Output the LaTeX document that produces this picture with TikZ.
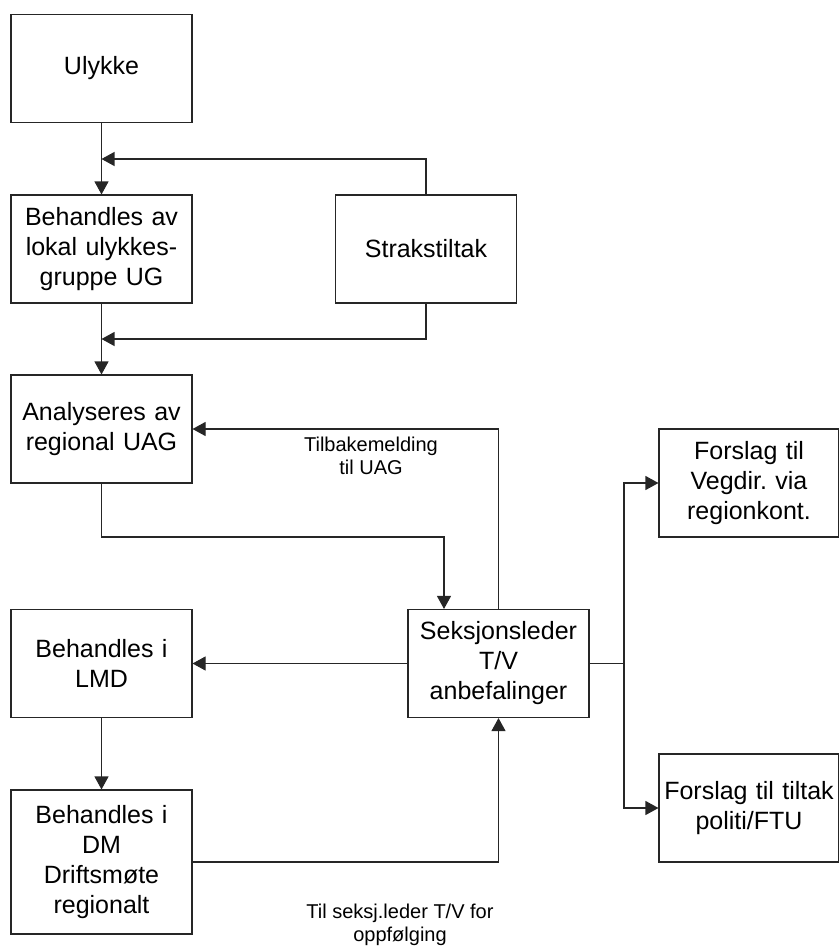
\documentclass[tikz,border=0pt]{standalone}
\usepackage{fontspec}
\setmainfont{Liberation Sans}
\usetikzlibrary{arrows.meta}
\frenchspacing

\begin{document}
\begin{tikzpicture}[x=0.5pt,y=-0.5pt,
  box/.style={draw=black!85, line width=0.55pt, align=center, inner sep=1pt,
    text width=88pt, minimum width=90.5pt, minimum height=54pt,
    font=\fontsize{12.5}{15}\selectfont},
  tallbox/.style={box, minimum height=72pt},
  link/.style={draw=black!85, line width=0.55pt},
  arr/.style={link, -{Triangle[length=6.5pt,width=7pt]}},
  note/.style={align=center, font=\fontsize{10}{11.5}\selectfont}]
 \path[use as bounding box] (0,0) rectangle (839,947);

% left column
\node[box] (ulykke) at (101.5,68.5) {Ulykke};
\node[box] (behandles) at (101.5,249) {Behandles av\\lokal ulykkes-\\gruppe UG};
\node[box] (straks) at (426,249) {Strakstiltak};
\node[box] (analyse) at (101.5,429) {Analyseres av\\regional UAG};
\node[box] (lmd) at (101.5,663.5) {Behandles i\\LMD};
\node[tallbox] (dm) at (101.5,862) {Behandles i\\DM\\Driftsm\o te\\regionalt};

% middle and right
\node[box] (seksjon) at (498.5,663.5) {Seksjonsleder\\T/V\\anbefalinger};
\node[box, minimum width=89pt] (vegdir) at (749,483) {Forslag til\\Vegdir. via\\regionkont.};
\node[box, minimum width=89pt] (tiltak) at (749,808) {Forslag til tiltak\\politi/FTU};

\coordinate (j1) at (101.5,159);
\coordinate (j2) at (101.5,339);
\coordinate (a1) at (444,537);
\coordinate (split) at (624,663.5);

\draw[arr] (ulykke) -- (behandles);
\draw[arr] (straks.north) |- (j1);
\draw[arr] (behandles) -- (analyse);
\draw[arr] (straks.south) |- (j2);
\draw[arr] (analyse.south) |- (a1) -- (a1 |- seksjon.north);
\draw[arr] (seksjon.north) |- (analyse.east);
\draw[arr] (seksjon.west) -- (lmd.east);
\draw[arr] (lmd) -- (dm);
\draw[arr] (dm.east) -| (seksjon.south);
\draw[link] (seksjon.east) -- (split);
\draw[arr] (split) |- (vegdir.west);
\draw[arr] (split) |- (tiltak.west);

\node[note] (tilbake) at (371,456) {Tilbakemelding\\til UAG};
\node[note] (oppf) at (400,925) {Til seksj.leder T/V for\\oppf\o lging};

\end{tikzpicture}
\end{document}
